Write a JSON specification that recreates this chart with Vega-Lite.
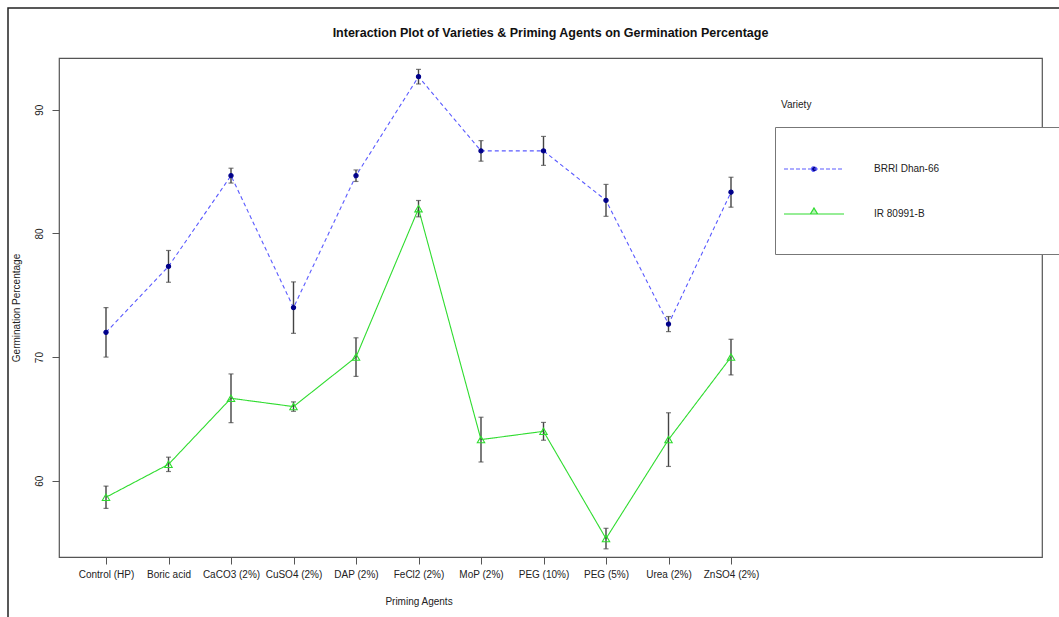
{
  "$schema": "https://vega.github.io/schema/vega-lite/v6.json",
  "width": 983,
  "height": 499,
  "autosize": {"type": "none"},
  "padding": {"left": 59, "top": 58, "right": 17, "bottom": 60},
  "background": "white",
  "title": {
    "text": "Interaction Plot of Varieties & Priming Agents on Germination Percentage",
    "fontSize": 12.5,
    "fontWeight": "bold",
    "font": "Liberation Sans",
    "color": "#111",
    "anchor": "middle",
    "offset": -32
  },
  "config": {
    "font": "Liberation Sans",
    "view": {"stroke": "#555", "strokeWidth": 1.2},
    "axis": {
      "grid": false,
      "domain": false,
      "tickColor": "#555",
      "tickSize": 7,
      "labelFont": "Liberation Sans",
      "labelFontSize": 10,
      "labelColor": "#222",
      "titleFont": "Liberation Sans",
      "titleFontSize": 10,
      "titleFontWeight": "normal",
      "titleColor": "#222"
    }
  },
  "data": {
    "values": [
      {"agent": "Control (HP)", "variety": "BRRI Dhan-66", "mean": 72.0, "lower": 70.0, "upper": 74.0},
      {"agent": "Boric acid", "variety": "BRRI Dhan-66", "mean": 77.33, "lower": 76.05, "upper": 78.62},
      {"agent": "CaCO3 (2%)", "variety": "BRRI Dhan-66", "mean": 84.67, "lower": 84.07, "upper": 85.27},
      {"agent": "CuSO4 (2%)", "variety": "BRRI Dhan-66", "mean": 74.0, "lower": 71.92, "upper": 76.08},
      {"agent": "DAP (2%)", "variety": "BRRI Dhan-66", "mean": 84.67, "lower": 84.2, "upper": 85.13},
      {"agent": "FeCl2 (2%)", "variety": "BRRI Dhan-66", "mean": 92.67, "lower": 92.08, "upper": 93.26},
      {"agent": "MoP (2%)", "variety": "BRRI Dhan-66", "mean": 86.67, "lower": 85.84, "upper": 87.5},
      {"agent": "PEG (10%)", "variety": "BRRI Dhan-66", "mean": 86.67, "lower": 85.5, "upper": 87.84},
      {"agent": "PEG (5%)", "variety": "BRRI Dhan-66", "mean": 82.67, "lower": 81.38, "upper": 83.96},
      {"agent": "Urea (2%)", "variety": "BRRI Dhan-66", "mean": 72.67, "lower": 72.06, "upper": 73.28},
      {"agent": "ZnSO4 (2%)", "variety": "BRRI Dhan-66", "mean": 83.33, "lower": 82.12, "upper": 84.54},
      {"agent": "Control (HP)", "variety": "IR 80991-B", "mean": 58.67, "lower": 57.77, "upper": 59.57},
      {"agent": "Boric acid", "variety": "IR 80991-B", "mean": 61.33, "lower": 60.75, "upper": 61.91},
      {"agent": "CaCO3 (2%)", "variety": "IR 80991-B", "mean": 66.67, "lower": 64.7, "upper": 68.64},
      {"agent": "CuSO4 (2%)", "variety": "IR 80991-B", "mean": 66.0, "lower": 65.62, "upper": 66.38},
      {"agent": "DAP (2%)", "variety": "IR 80991-B", "mean": 70.0, "lower": 68.44, "upper": 71.56},
      {"agent": "FeCl2 (2%)", "variety": "IR 80991-B", "mean": 82.0, "lower": 81.34, "upper": 82.66},
      {"agent": "MoP (2%)", "variety": "IR 80991-B", "mean": 63.33, "lower": 61.52, "upper": 65.14},
      {"agent": "PEG (10%)", "variety": "IR 80991-B", "mean": 64.0, "lower": 63.28, "upper": 64.72},
      {"agent": "PEG (5%)", "variety": "IR 80991-B", "mean": 55.33, "lower": 54.5, "upper": 56.16},
      {"agent": "Urea (2%)", "variety": "IR 80991-B", "mean": 63.33, "lower": 61.16, "upper": 65.5},
      {"agent": "ZnSO4 (2%)", "variety": "IR 80991-B", "mean": 70.0, "lower": 68.56, "upper": 71.44}
    ]
  },
  "encoding": {
    "x": {
      "field": "agent",
      "type": "ordinal",
      "sort": null,
      "scale": {"type": "point", "range": [47, 672], "padding": 0},
      "axis": {"title": "Priming Agents", "labelAngle": 0, "labelPadding": 5, "titlePadding": 17}
    }
  },
  "layer": [
    {
      "mark": {"type": "line", "strokeWidth": 1.1},
      "encoding": {
        "y": {
          "field": "mean",
          "type": "quantitative",
          "scale": {"domain": [53.84, 94.18], "nice": false, "zero": false},
          "axis": {
            "title": "Germination Percentage",
            "values": [60, 70, 80, 90],
            "labelAngle": -90,
            "labelAlign": "center",
            "labelBaseline": "bottom",
            "labelPadding": 8,
            "titlePadding": 13
          }
        },
        "color": {
          "field": "variety",
          "type": "nominal",
          "scale": {"domain": ["BRRI Dhan-66", "IR 80991-B"], "range": ["#5a5aff", "#2fdc2f"]},
          "legend": {
            "title": "Variety",
            "orient": "none",
            "legendX": 716,
            "legendY": 69,
            "padding": 6,
            "fillColor": "white",
            "strokeColor": "#777",
            "titleFont": "Liberation Sans",
            "titleFontSize": 10,
            "titleFontWeight": "normal",
            "titleColor": "#222",
            "titleBaseline": "line-bottom",
            "titleLineHeight": 55,
            "titlePadding": 15,
            "labelFont": "Liberation Sans",
            "labelFontSize": 10,
            "labelColor": "#222",
            "labelOffset": 49,
            "symbolSize": 400,
            "symbolOffset": 22,
            "rowPadding": -3,
            "encode": {
              "symbols": {
                "update": {
                  "shape": {"signal": "datum.value === 'BRRI Dhan-66' ? 'M25,0M-3,0H3M-0.25,0A0.25,0.25 0 1,0 0.25,0A0.25,0.25 0 1,0 -0.25,0ZM0,3.1' : 'M25,0M-3,0H3M-0.36,0L0,-0.6L0.36,0ZM0,3.1'"},
                  "stroke": {"signal": "datum.value === 'BRRI Dhan-66' ? '#5a5aff' : '#2fdc2f'"},
                  "fill": {"signal": "datum.value === 'BRRI Dhan-66' ? '#00008b' : 'rgba(47,220,47,0.35)'"},
                  "strokeDash": {"signal": "datum.value === 'BRRI Dhan-66' ? [4, 2] : [1, 0]"},
                  "strokeWidth": {"value": 1.2},
                  "opacity": {"value": 1}
                }
              }
            }
          }
        },
        "strokeDash": {
          "field": "variety",
          "type": "nominal",
          "scale": {"range": [[4, 3], [1, 0]]},
          "legend": {
            "title": null,
            "orient": "none",
            "legendX": -51,
            "legendY": -50,
            "padding": 700,
            "fillColor": "transparent",
            "strokeColor": "#222",
            "symbolOpacity": 0,
            "labelExpr": "''",
            "encode": {"legend": {"update": {"strokeWidth": {"value": 1.5}}}}
          }
        }
      }
    },
    {
      "mark": {"type": "rule", "color": "#444", "strokeWidth": 1.4},
      "encoding": {
        "y": {"field": "lower", "type": "quantitative"},
        "y2": {"field": "upper"}
      }
    },
    {
      "mark": {"type": "tick", "color": "#444", "size": 5, "thickness": 1.2},
      "encoding": {"y": {"field": "lower", "type": "quantitative"}}
    },
    {
      "mark": {"type": "tick", "color": "#444", "size": 5, "thickness": 1.2},
      "encoding": {"y": {"field": "upper", "type": "quantitative"}}
    },
    {
      "mark": {"type": "point", "opacity": 1, "strokeWidth": 1.1},
      "encoding": {
        "y": {"field": "mean", "type": "quantitative"},
        "shape": {
          "field": "variety",
          "type": "nominal",
          "scale": {"range": ["circle", "triangle-up"]},
          "legend": null
        },
        "size": {
          "field": "variety",
          "type": "nominal",
          "scale": {"range": [18, 55]},
          "legend": null
        },
        "fill": {
          "field": "variety",
          "type": "nominal",
          "scale": {"range": ["#00008b", "transparent"]},
          "legend": null
        },
        "stroke": {
          "field": "variety",
          "type": "nominal",
          "scale": {"range": ["#00008b", "#2fdc2f"]},
          "legend": null
        }
      }
    }
  ]
}
